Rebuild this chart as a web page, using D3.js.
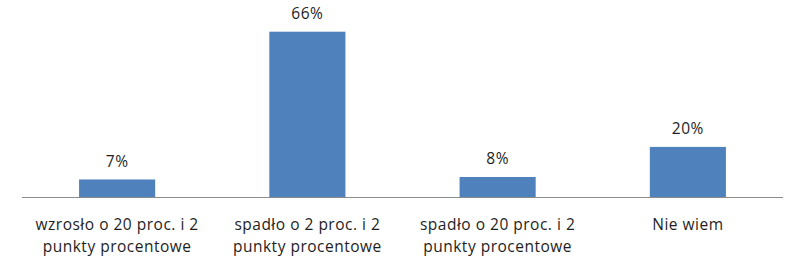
<!DOCTYPE html>
<html>
<head>
<meta charset="utf-8">
<script src="https://cdn.jsdelivr.net/npm/d3@7"></script>
<style>
  body { margin: 0; background: #fff; }
  text { font-family: "Open Sans", "Liberation Sans", sans-serif; fill: #1e1e1e; letter-spacing: 0.5px; }
</style>
</head>
<body>
<svg id="chart" width="805" height="267"></svg>
<script>
// dane z wykresu
var categories = [
    ["wzrosło o 20 proc. i 2", "punkty procentowe"],
    ["spadło o 2 proc. i 2", "punkty procentowe"],
    ["spadło o 20 proc. i 2", "punkty procentowe"],
    ["Nie wiem"]
]
var values = [7, 66, 8, 20]
var value_labels = ["7%", "66%", "8%", "20%"]

var svg = d3.select("#chart")

var left = 22, right = 783, baseline = 197

var xScale = d3.scaleBand()
    .domain(d3.range(values.length))
    .range([left, right])
    .paddingInner(0.6)
    .paddingOuter(0.3)

var yScale = d3.scaleLinear()
    .domain([0, 66])
    .range([baseline, 31.7])

// słupki
svg.append("g").selectAll("rect")
    .data(values)
    .enter().append("rect")
    .attr("x", function(d, i) { return xScale(i) })
    .attr("y", function(d) { return yScale(d) })
    .attr("width", xScale.bandwidth())
    .attr("height", function(d) { return baseline - yScale(d) })
    .style("fill", "#4f81bd")

// etykiety wartości
svg.append("g").selectAll("text")
    .data(values)
    .enter().append("text")
    .attr("x", function(d, i) { return xScale(i) + xScale.bandwidth() / 2 })
    .attr("y", function(d) { return yScale(d) - 12.5 })
    .attr("text-anchor", "middle")
    .style("font-size", "15.5px")
    .text(function(d, i) { return value_labels[i] })

// oś
svg.append("line")
    .attr("x1", left).attr("x2", right)
    .attr("y1", baseline + 0.5).attr("y2", baseline + 0.5)
    .style("stroke", "#8c8c8c")
    .style("stroke-width", 1)

// etykiety kategorii
var cat = svg.append("g").selectAll("text")
    .data(categories)
    .enter().append("text")
    .attr("text-anchor", "middle")
    .style("font-size", "15.5px")

cat.selectAll("tspan")
    .data(function(d, i) { return d.map(function(s) { return { s: s, i: i } }) })
    .enter().append("tspan")
    .attr("x", function(d) { return xScale(d.i) + xScale.bandwidth() / 2 })
    .attr("y", function(d, j) { return 229.5 + j * 22 })
    .text(function(d) { return d.s })
</script>
</body>
</html>
